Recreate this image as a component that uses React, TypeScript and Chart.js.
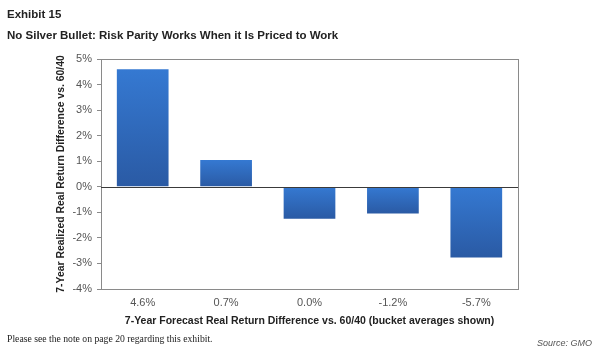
import React, { useEffect, useRef } from "react";
import { Chart, registerables } from "chart.js";

Chart.register(...registerables);

const categories = ["4.6%", "0.7%", "0.0%", "-1.2%", "-5.7%"];
const values = [4.6, 1.05, -1.25, -1.05, -2.77];
const yTicks = [5, 4, 3, 2, 1, 0, -1, -2, -3, -4];

const FONT = "'Liberation Sans', Arial, sans-serif";

const framePlugin = {
  id: "frame",
  beforeDatasetsDraw(chart: any) {
    const { ctx, chartArea } = chart;
    ctx.save();
    ctx.strokeStyle = "#8a8a8a";
    ctx.lineWidth = 1;
    ctx.strokeRect(
      Math.round(chartArea.left) + 0.5,
      Math.round(chartArea.top) + 0.5,
      Math.round(chartArea.right - chartArea.left),
      Math.round(chartArea.bottom - chartArea.top)
    );
    ctx.restore();
  },
  afterDatasetsDraw(chart: any) {
    const { ctx, chartArea, scales } = chart;
    const y0 = Math.round(scales.y.getPixelForValue(0)) + 0.5;
    ctx.save();
    ctx.strokeStyle = "#3a3a3a";
    ctx.lineWidth = 1;
    ctx.beginPath();
    ctx.moveTo(chartArea.left, y0);
    ctx.lineTo(chartArea.right, y0);
    ctx.stroke();
    ctx.restore();
  },
};

export default function App() {
  const ref = useRef<HTMLCanvasElement | null>(null);

  useEffect(() => {
    if (!ref.current) return;
    const chart = new Chart(ref.current, {
      type: "bar",
      data: {
        labels: categories,
        datasets: [
          {
            data: values,
            backgroundColor: (c: any) => {
              const ch = c.chart;
              const sy = ch.scales?.y;
              if (!sy || !ch.chartArea || c.dataIndex === undefined) return "#2f68bc";
              const v = values[c.dataIndex];
              const top = sy.getPixelForValue(Math.max(v, 0));
              const bot = sy.getPixelForValue(Math.min(v, 0));
              if (!isFinite(top) || !isFinite(bot) || top === bot) return "#2f68bc";
              const g = ch.ctx.createLinearGradient(0, top, 0, bot);
              g.addColorStop(0, "#3579d2");
              g.addColorStop(1, "#2a5aa4");
              return g;
            },
            borderWidth: 0,
            barPercentage: 0.62,
            categoryPercentage: 1,
          },
        ],
      },
      options: {
        animation: false,
        responsive: false,
        maintainAspectRatio: false,
        layout: { padding: { top: 59, right: 82, left: 0, bottom: 0 } },
        plugins: {
          legend: { display: false },
          tooltip: { enabled: false },
          title: { display: false },
        },
        scales: {
          x: {
            grid: { display: false, drawTicks: false },
            border: { display: true, color: "#8a8a8a" },
            ticks: {
              color: "#555",
              font: { family: FONT, size: 11 },
              padding: 7,
            },
            title: {
              display: true,
              text: "7-Year Forecast Real Return Difference vs. 60/40 (bucket averages shown)",
              color: "#222",
              font: { family: FONT, size: 10.5, weight: "bold" },
              padding: { top: 0, bottom: 30 },
            },
            afterFit: (s: any) => {
              s.height = 68;
            },
          },
          y: {
            min: -4,
            max: 5,
            afterBuildTicks: (s: any) => {
              s.ticks = yTicks.map((v) => ({ value: v }));
            },
            grid: {
              drawOnChartArea: false,
              drawTicks: true,
              tickLength: 4,
              color: "#8a8a8a",
            },
            border: { display: true, color: "#8a8a8a" },
            ticks: {
              color: "#555",
              font: { family: FONT, size: 11 },
              padding: 5,
              callback: (v: any) => v + "%",
            },
            title: {
              display: true,
              text: "7-Year Realized Real Return Difference vs. 60/40",
              color: "#222",
              font: { family: FONT, size: 10.4, weight: "bold" },
              padding: { top: 55, bottom: 0 },
            },
            afterFit: (s: any) => {
              s.width = 101;
            },
          },
        },
      },
      plugins: [framePlugin],
    } as any);
    return () => chart.destroy();
  }, []);

  return (
    <div
      style={{
        position: "fixed",
        left: 0,
        top: 0,
        width: 600,
        height: 357,
        background: "#fff",
        fontFamily: FONT,
      }}
    >
      <canvas
        ref={ref}
        width={600}
        height={357}
        style={{ position: "absolute", left: 0, top: 0, width: 600, height: 357 }}
      />
      <div
        style={{
          position: "absolute",
          left: 7,
          top: 7,
          fontSize: 11.5,
          lineHeight: "14px",
          fontWeight: "bold",
          color: "#222",
          whiteSpace: "nowrap",
        }}
      >
        Exhibit 15
      </div>
      <div
        style={{
          position: "absolute",
          left: 7,
          top: 28,
          fontSize: 11.5,
          lineHeight: "14px",
          fontWeight: "bold",
          color: "#222",
          whiteSpace: "nowrap",
        }}
      >
        No Silver Bullet: Risk Parity Works When it Is Priced to Work
      </div>
      <div
        style={{
          position: "absolute",
          left: 7,
          top: 333,
          fontSize: 9.7,
          lineHeight: "12px",
          fontFamily: "'Liberation Serif', 'Times New Roman', serif",
          color: "#222",
          whiteSpace: "nowrap",
        }}
      >
        Please see the note on page 20 regarding this exhibit.
      </div>
      <div
        style={{
          position: "absolute",
          right: 8,
          top: 337,
          fontSize: 9,
          lineHeight: "12px",
          fontStyle: "italic",
          color: "#555",
          whiteSpace: "nowrap",
        }}
      >
        Source: GMO
      </div>
    </div>
  );
}
